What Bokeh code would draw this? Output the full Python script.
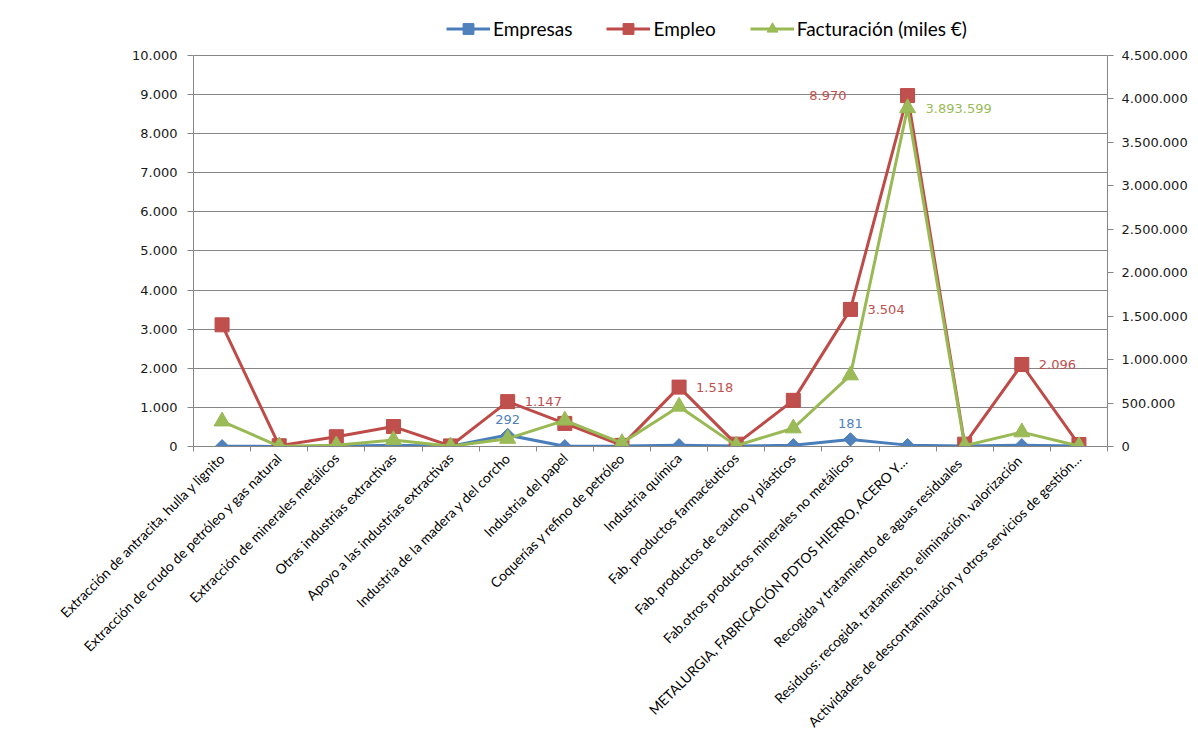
import numpy as np
from bokeh.plotting import figure
from bokeh.models import (Range1d, LinearAxis, FixedTicker, Legend, LegendItem,
                          ColumnDataSource)
from bokeh.core.properties import value
from bokeh.embed import file_html
from bokeh.resources import INLINE

# ---------------- data ----------------
categories = [
    "Extracción de antracita, hulla y lignito",
    "Extracción de crudo de petróleo y gas natural",
    "Extracción de minerales metálicos",
    "Otras industrias extractivas",
    "Apoyo a las industrias extractivas",
    "Industria de la madera y del corcho",
    "Industria del papel",
    "Coquerías y refino de petróleo",
    "Industria química",
    "Fab. productos farmacéuticos",
    "Fab. productos de caucho y plásticos",
    "Fab.otros productos minerales no metálicos",
    "METALURGIA, FABRICACIÓN  PDTOS HIERRO, ACERO Y…",
    "Recogida y tratamiento  de aguas  residuales",
    "Residuos: recogida, tratamiento,  eliminación, valorización",
    "Actividades de descontaminación y otros servicios de gestión…",
]
empresas = [5, 2, 8, 30, 5, 292, 5, 15, 30, 15, 30, 181, 35, 15, 30, 15]
empleo = [3110, 20, 250, 510, 15, 1147, 590, 30, 1518, 60, 1180, 3504, 8970, 60, 2096, 50]
facturacion = [290000, 2000, 15000, 75000, 2000, 90000, 300000, 40000, 460000, 10000,
               210000, 820000, 3893599, 10000, 165000, 5000]

empresas_labels = ["", "", "", "", "", "292", "", "", "", "", "", "181", "", "", "", ""]
empleo_labels = ["", "", "", "", "", "1.147", "", "", "1.518", "", "", "3.504", "8.970", "", "2.096", ""]
facturacion_labels = ["", "", "", "", "", "", "", "", "", "", "", "", "3.893.599", "", "", ""]

left_ticks = [0, 1000, 2000, 3000, 4000, 5000, 6000, 7000, 8000, 9000, 10000]
left_tick_labels = ["0", "1.000", "2.000", "3.000", "4.000", "5.000", "6.000", "7.000",
                    "8.000", "9.000", "10.000"]
right_ticks = [0, 500000, 1000000, 1500000, 2000000, 2500000, 3000000, 3500000, 4000000, 4500000]
right_tick_labels = ["0", "500.000", "1.000.000", "1.500.000", "2.000.000", "2.500.000",
                     "3.000.000", "3.500.000", "4.000.000", "4.500.000"]

series_names = ["Empresas", "Empleo", "Facturación (miles €)"]

# ---------------- styles ----------------
BLUE_L, BLUE_F = "#4A7EBB", "#4F81BD"
RED_L, RED_F = "#BE4B48", "#C0504D"
GREEN_L, GREEN_F = "#98B954", "#9BBB59"
GRID = "#868686"
TICK_FONT = "DejaVu Sans"

n = len(categories)
xs = list(range(1, n + 1))

LEFT_MAX = left_ticks[-1]
RIGHT_MAX = right_ticks[-1]
HEADROOM = 438 / 393   # frame extends above the top gridline to host the legend

p = figure(width=1190, height=739, output_backend="svg", toolbar_location=None,
           x_range=Range1d(0.5, n + 0.5), y_range=Range1d(0, LEFT_MAX * HEADROOM),
           min_border_left=193, min_border_right=82, min_border_top=10,
           min_border_bottom=291, tools="")
p.extra_y_ranges = {"fact": Range1d(0, RIGHT_MAX * HEADROOM)}
p.outline_line_color = None
p.background_fill_color = "white"
p.border_fill_color = "white"

# x axis
xa = p.xaxis[0]
xa.ticker = FixedTicker(ticks=xs, minor_ticks=[i + 0.5 for i in range(n + 1)])
xa.major_label_overrides = {x: c for x, c in zip(xs, categories)}
xa.major_label_orientation = np.pi / 4
xa.major_tick_line_color = None
xa.major_tick_in = 0
xa.major_tick_out = 0
xa.minor_tick_line_color = GRID
xa.minor_tick_in = 0
xa.minor_tick_out = 5
xa.axis_line_color = GRID
xa.major_label_text_font = "Lato"
xa.major_label_text_font_size = "13.8px"
xa.major_label_text_color = "#000000"
xa.major_label_standoff = 4

# left axis
ya = p.yaxis[0]
ya.ticker = FixedTicker(ticks=left_ticks)
ya.bounds = (0, LEFT_MAX)
ya.major_label_overrides = {t: l for t, l in zip(left_ticks, left_tick_labels)}
ya.axis_line_color = GRID
ya.major_tick_line_color = GRID
ya.major_tick_in = 0
ya.major_tick_out = 6
ya.minor_tick_line_color = None
ya.major_label_text_font = TICK_FONT
ya.major_label_text_font_size = "13px"
ya.major_label_text_color = "#1a1a1a"
ya.major_label_standoff = 10

# right axis
ra = LinearAxis(y_range_name="fact", ticker=FixedTicker(ticks=right_ticks),
                bounds=(0, RIGHT_MAX))
ra.major_label_overrides = {t: l for t, l in zip(right_ticks, right_tick_labels)}
ra.axis_line_color = GRID
ra.major_tick_line_color = GRID
ra.major_tick_in = 0
ra.major_tick_out = 6
ra.minor_tick_line_color = None
ra.major_label_text_font = TICK_FONT
ra.major_label_text_font_size = "13px"
ra.major_label_text_color = "#1a1a1a"
ra.major_label_standoff = 8
p.add_layout(ra, "right")

p.xgrid.grid_line_color = None
p.ygrid.grid_line_color = GRID
p.ygrid.grid_line_width = 1

# ---------------- series ----------------
src = ColumnDataSource(dict(x=xs, emp=empresas, eml=empleo, fac=facturacion))

l1 = p.line("x", "emp", source=src, line_color=BLUE_L, line_width=3)
s1 = p.scatter("x", "emp", source=src, marker="square", angle=np.pi / 4, size=9.5,
               fill_color=BLUE_F, line_color=BLUE_L)
l2 = p.line("x", "eml", source=src, line_color=RED_L, line_width=3)
s2 = p.scatter("x", "eml", source=src, marker="square", size=14,
               fill_color=RED_F, line_color=RED_L)
l3 = p.line("x", "fac", source=src, line_color=GREEN_L, line_width=3, y_range_name="fact")
s3 = p.scatter("x", "fac", source=src, marker="triangle", size=16,
               fill_color=GREEN_F, line_color=GREEN_L, y_range_name="fact")

# ---------------- data labels ----------------
def label_source(vals, labels, idx_filter=None):
    d = dict(x=[], y=[], t=[])
    for i, (v, t) in enumerate(zip(vals, labels)):
        if t and (idx_filter is None or idx_filter(i)):
            d["x"].append(xs[i]); d["y"].append(v); d["t"].append(t)
    return ColumnDataSource(d)

lab_kw = dict(text_font=value(TICK_FONT), text_font_size="13px")

p.text("x", "y", "t", source=label_source(empresas, empresas_labels),
       text_align="center", text_baseline="bottom", y_offset=-11,
       text_color="#4F81BD", **lab_kw)

peak = int(np.argmax(empleo))
p.text("x", "y", "t", source=label_source(empleo, empleo_labels, lambda i: i != peak),
       text_align="left", text_baseline="middle", x_offset=17,
       text_color=RED_F, **lab_kw)
p.text("x", "y", "t", source=label_source(empleo, empleo_labels, lambda i: i == peak),
       text_align="right", text_baseline="middle", x_offset=-61,
       text_color=RED_F, **lab_kw)
p.text("x", "y", "t", source=label_source(facturacion, facturacion_labels),
       text_align="left", text_baseline="middle", x_offset=18, y_range_name="fact",
       text_color=GREEN_F, **lab_kw)

# ---------------- legend ----------------
legend = Legend(items=[LegendItem(label=series_names[0], renderers=[l1, s1]),
                       LegendItem(label=series_names[1], renderers=[l2, s2]),
                       LegendItem(label=series_names[2], renderers=[l3, s3])],
                orientation="horizontal", location=(253, 404),
                glyph_width=44, glyph_height=27, label_standoff=3, spacing=34,
                padding=0, margin=0, border_line_color=None, background_fill_alpha=0,
                label_text_font="Lato", label_text_font_size="19px",
                label_text_color="#000000")
p.add_layout(legend)

open("out.html", "w").write(file_html(p, INLINE))
